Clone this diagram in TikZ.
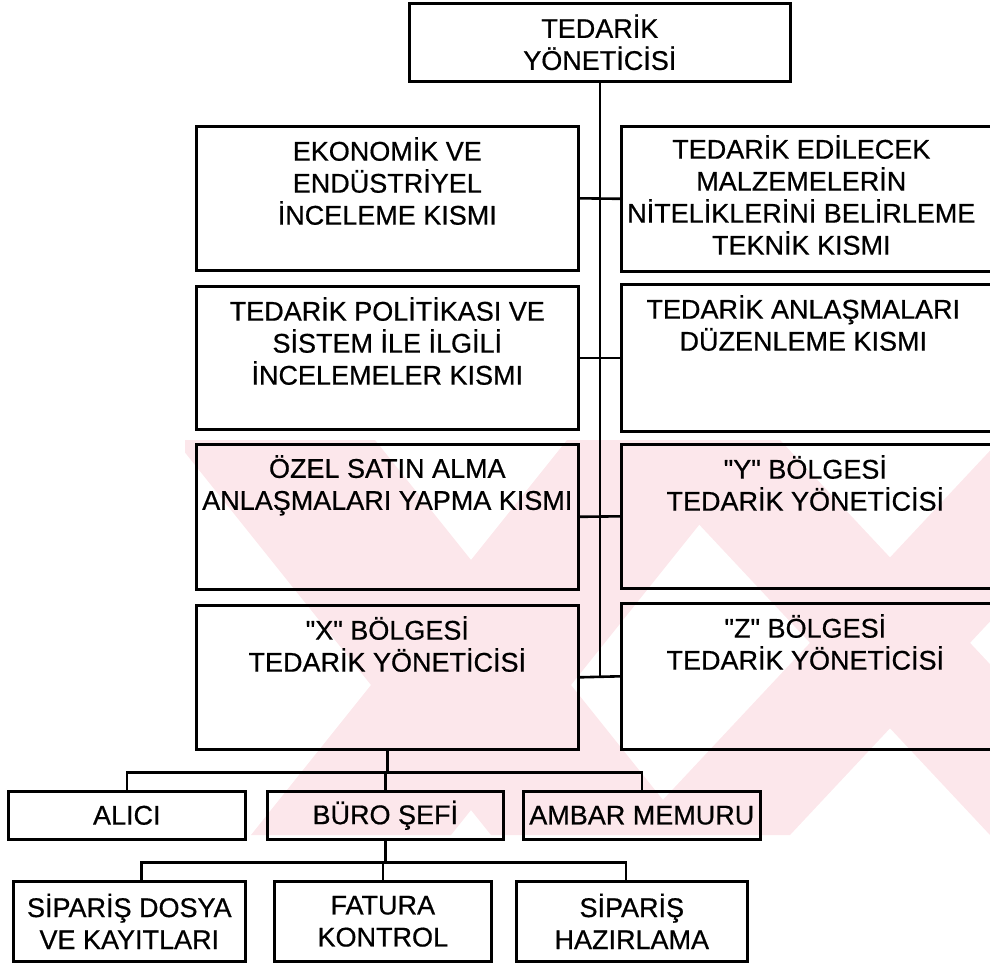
\documentclass[tikz,border=0pt]{standalone}
\usepackage{fontspec}
\newfontfamily\orgfamily{Liberation Sans}[FakeBold=0.6]
\newcommand{\orgfont}{\orgfamily\fontsize{27pt}{32pt}\selectfont}
\newcommand{\firstline}{\rule{0pt}{22pt}}
\definecolor{markpink}{RGB}{252,231,235}

\tikzset{
  unitbox/.style={draw, line width=2.6pt, rectangle, inner sep=0pt, anchor=north west},
  unitlabel/.style={font=\orgfont, align=center, inner sep=0pt},
  toplabel/.style={unitlabel, anchor=north},
  link/.style={line width=2.6pt},
  markband/.style={fill=markpink, draw=none},
}

\begin{document}
\begin{tikzpicture}[x=1pt, y=-1pt]
\useasboundingbox (0,0) rectangle (990,966);

% --- faint background mark behind the lower part of the chart
\begin{scope}
  \clip (185,440) rectangle (990,835);
  % left cross
  \fill[markband] (175,440) -- (375,440) -- (691,835) -- (491,835) -- cycle;
  \fill[markband] (567,440) -- (767,440) -- (451,835) -- (251,835) -- cycle;
  % right cross
  \fill[markband] (620,440) -- (780,440) -- (1150,835) -- (990,835) -- cycle;
  \fill[markband] (1000,440) -- (1160,440) -- (790,835) -- (630,835) -- cycle;
\end{scope}

% --- head of the organisation
\node[unitbox, minimum width=381pt, minimum height=78pt] (head) at (408,2) {};
\node[unitlabel] (headt) at (head.center) {TEDARİK\\YÖNETİCİSİ};

% --- left column of departments
\node[unitbox, minimum width=382pt, minimum height=144pt] (l1) at (195,125) {};
\node[unitbox, minimum width=382pt, minimum height=143pt] (l2) at (195,285) {};
\node[unitbox, minimum width=382pt, minimum height=145pt] (l3) at (195,443) {};
\node[unitbox, minimum width=382pt, minimum height=144pt] (l4) at (195,604) {};

% --- right column of departments (runs off the right edge)
\node[unitbox, minimum width=376pt, minimum height=145pt] (r1) at (620,125) {};
\node[unitbox, minimum width=376pt, minimum height=147pt] (r2) at (620,283) {};
\node[unitbox, minimum width=376pt, minimum height=144pt] (r3) at (620,443) {};
\node[unitbox, minimum width=376pt, minimum height=146pt] (r4) at (620,602) {};

\node[toplabel] (l1t) at ([yshift=-12pt]l1.north) {\firstline EKONOMİK VE\\ENDÜSTRİYEL\\İNCELEME KISMI};
\node[toplabel] (l2t) at ([yshift=-12pt]l2.north) {\firstline TEDARİK POLİTİKASI VE\\SİSTEM İLE İLGİLİ\\İNCELEMELER KISMI};
\node[toplabel] (l3t) at ([yshift=-12pt]l3.north) {\firstline ÖZEL SATIN ALMA\\ANLAŞMALARI YAPMA KISMI};
\node[toplabel] (l4t) at ([yshift=-12pt]l4.north) {\firstline "X" BÖLGESİ\\TEDARİK YÖNETİCİSİ};

\node[toplabel] (r1t) at ([xshift=-8pt, yshift=-10pt]r1.north) {\firstline TEDARİK EDİLECEK\\MALZEMELERİN\\NİTELİKLERİNİ BELİRLEME\\TEKNİK KISMI};
\node[toplabel] (r2t) at ([xshift=-6pt, yshift=-12pt]r2.north) {\firstline TEDARİK ANLAŞMALARI\\DÜZENLEME KISMI};
\node[toplabel] (r3t) at ([xshift=-4pt, yshift=-12pt]r3.north) {\firstline "Y" BÖLGESİ\\TEDARİK YÖNETİCİSİ};
\node[toplabel] (r4t) at ([xshift=-4pt, yshift=-12pt]r4.north) {\firstline "Z" BÖLGESİ\\TEDARİK YÖNETİCİSİ};

% --- trunk and cross links
\draw[link] (head.south) -- (head.south |- l4.east);
\draw[link] (l1.east) -- (r1.west);
\draw[link] (l2.east) -- (r2.west);
\draw[link] (l3.east) -- (r3.west);
\draw[link] (l4.east) -- (r4.west);

% --- staff under the "X" region manager
\node[unitbox, minimum width=237pt, minimum height=48pt] (alici) at (7,790) {};
\node[unitbox, minimum width=236pt, minimum height=48pt] (buro) at (266,790) {};
\node[unitbox, minimum width=237pt, minimum height=48pt] (ambar) at (522,790) {};
\node[unitlabel] (alicit) at (alici.center) {ALICI};
\node[unitlabel] (burot) at (buro.center) {BÜRO ŞEFİ};
\node[unitlabel] (ambart) at (ambar.center) {AMBAR MEMURU};

\draw[link] (l4.south) -- ++(0,22) coordinate (busA);
\draw[link] (busA) -| (alici.north);
\draw[link] (busA) -| (buro.north);
\draw[link] (busA) -| (ambar.north);

% --- sections under the office chief
\node[unitbox, minimum width=232pt, minimum height=80pt] (sd) at (12,880) {};
\node[unitbox, minimum width=217pt, minimum height=80pt] (fk) at (273,880) {};
\node[unitbox, minimum width=231pt, minimum height=80pt] (sh) at (515,880) {};
\node[unitlabel] (sdt) at (sd.center) {SİPARİŞ DOSYA\\VE KAYITLARI};
\node[unitlabel] (fkt) at (fk.center) {FATURA\\KONTROL};
\node[unitlabel] (sht) at (sh.center) {SİPARİŞ\\HAZIRLAMA};

\draw[link] (buro.south) -- ++(0,22) coordinate (busB);
\draw[link] (busB) -| ([xshift=12pt]sd.north);
\draw[link] (busB) -| (fk.north);
\draw[link] (busB) -| ([xshift=-6pt]sh.north);
\end{tikzpicture}
\end{document}
